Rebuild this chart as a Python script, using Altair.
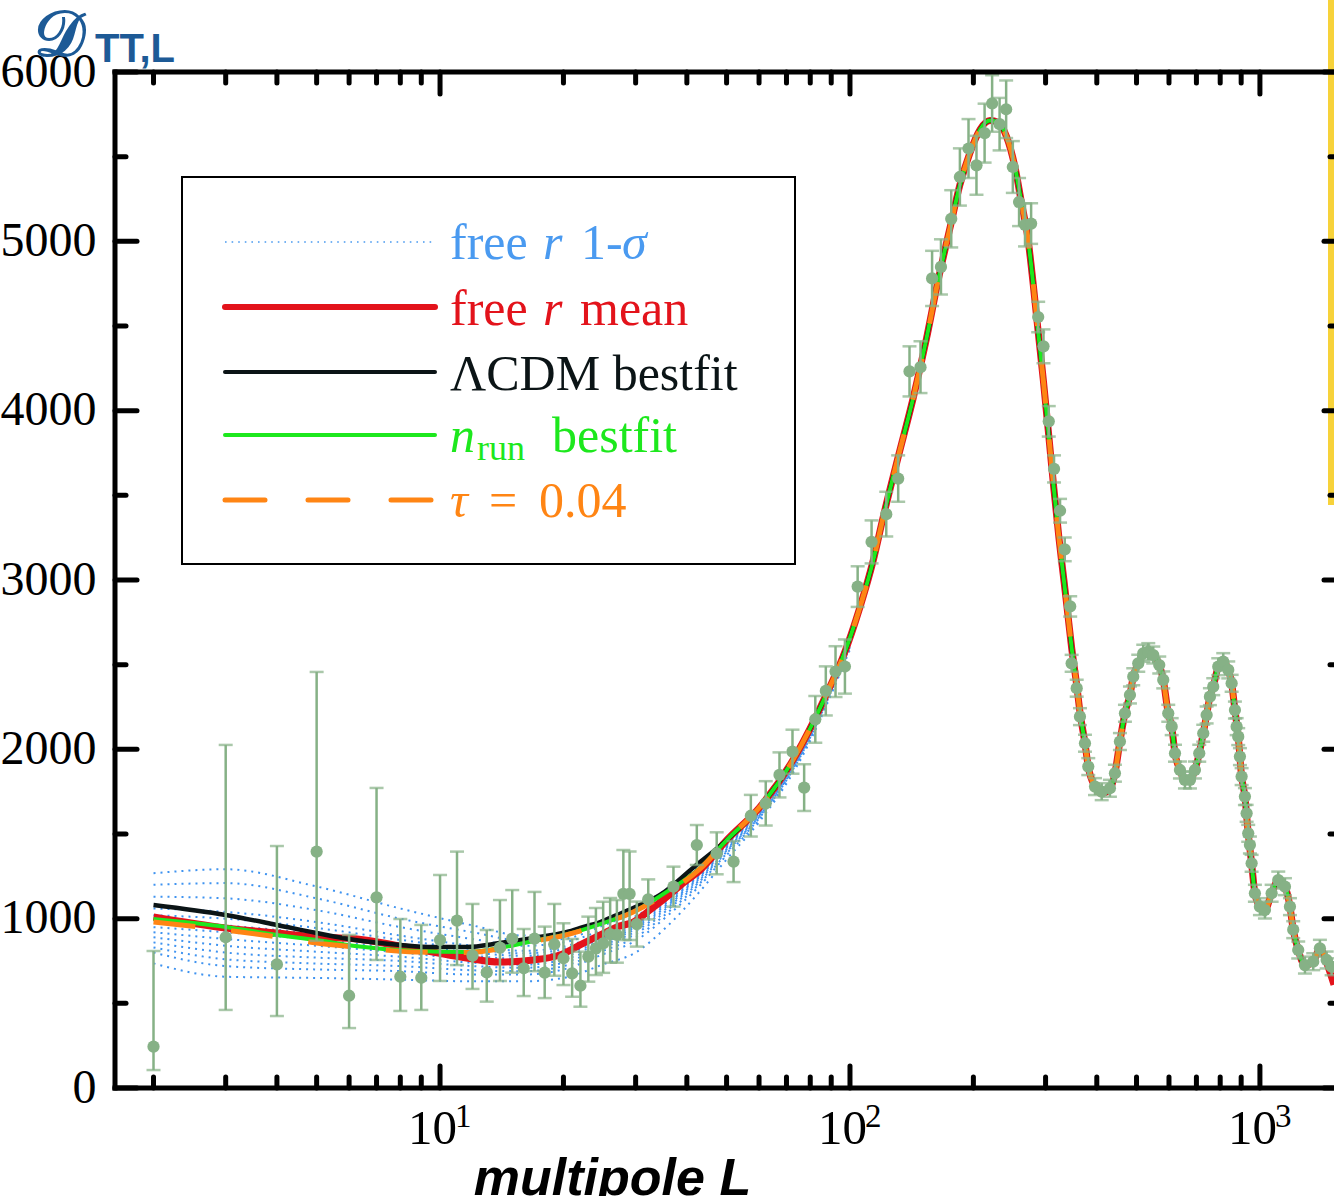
import altair as alt
import pandas as pd

# ---------------- data ----------------
# shared part of all model curves for ell >= 50
HIGH_ELL = [50.1, 60.3, 72.6, 81.2, 87.9, 96.1, 105.8, 113.8, 120.6, 131.2, 142.8, 153.8, 163.9,
            175.4, 185.4, 196.2, 207.6, 219.6, 229.9, 241.0, 252.6, 262.0, 271.7, 279.4, 287.7,
            296.4, 305.3, 314.3, 323.5, 332.0, 338.3, 347.3, 357.3, 363.9, 374.3, 381.3, 396.0,
            411.2, 430.6, 442.9, 455.5, 468.5, 481.9, 490.9, 504.9, 519.3, 534.1, 549.3, 568.1,
            581.0, 597.6, 609.2, 620.6, 638.1, 656.3, 675.0, 694.2, 711.2, 727.4, 741.3, 755.1,
            769.3, 791.3, 813.8, 837.0, 853.1, 869.0, 885.3, 902.3, 919.1, 936.4, 954.4, 972.2,
            1000.0, 1028.5, 1068.0, 1108.5, 1150.9, 1183.7, 1205.7, 1240.0, 1287.7, 1349.0, 1400.6]
HIGH_D = [1465, 1660, 1937, 2156, 2333, 2545, 2841, 3110, 3375, 3730, 4080, 4430, 4764,
          5080, 5333, 5523, 5660, 5713, 5702, 5618, 5439, 5228, 5017, 4764, 4469,
          4174, 3857, 3540, 3245, 3013, 2843, 2600, 2380, 2220, 2036, 1898, 1780,
          1740, 1765, 1859, 2046, 2213, 2321, 2429, 2508, 2560, 2580, 2560, 2500,
          2410, 2213, 2134, 1977, 1878, 1819, 1819, 1878, 1977, 2095, 2203, 2311,
          2370, 2488, 2518, 2469, 2390, 2232, 2075, 1839, 1721, 1504, 1327, 1150,
          1071, 1051, 1150, 1228, 1189, 1071, 935, 815, 726, 746, 825]
TAIL_ELL = [1454.6, 1516.0]
TAIL_D = [756, 700]
RED_TAIL_D = [740, 610]

# low-ell parts of each model
LCDM_LOW_ELL = [2, 3, 4, 5, 6.2, 8, 9.6, 11.6, 14, 16.9, 20.4, 22.4, 24.6, 27, 29.6, 34.4, 41.4]
LCDM_LOW_D = [1081, 1022, 963, 915, 874, 845, 833, 833, 856, 886, 921, 951, 980, 1021, 1063, 1140, 1300]
RED_LOW_ELL = [2, 3, 4, 5, 6.2, 8, 9.6, 11.6, 14, 16.9, 19.6, 22.4, 24.6, 27, 29.6, 32.5, 35.7, 39.2, 43.1]
RED_LOW_D = [1010, 945, 915, 892, 882, 838, 803, 768, 744, 756, 785, 856, 904, 951, 980, 1051, 1128, 1211, 1287]
NRUN_LOW_ELL = [2, 3, 4, 5, 6.2, 8.7, 11.6, 14, 16.9, 20.4, 24.6, 29.6, 35.7, 43.1]
NRUN_LOW_D = [998, 951, 904, 874, 839, 809, 803, 827, 868, 908, 968, 1040, 1158, 1300]
TAU_LOW_ELL = [2, 3, 4, 5, 6.2, 8.7, 11.6, 14, 16.9, 20.4, 24.6, 29.6, 35.7, 43.1]
TAU_LOW_D = [980, 933, 892, 856, 833, 803, 800, 822, 865, 905, 965, 1040, 1150, 1295]

# free-r 1-sigma sample curves
SIG_ELL = [2, 3, 5, 8, 12, 16, 20, 25, 30, 36, 43, 50, 60, 75, 100]
SIG_CURVES = [
    [1268, 1292, 1190, 1060, 960, 900, 900, 980, 1060, 1180, 1320, 1480, 1660, 2000, 2660],
    [1200, 1210, 1120, 1000, 920, 870, 880, 960, 1040, 1160, 1300, 1460, 1650, 1990, 2650],
    [1130, 1120, 1050, 950, 880, 840, 860, 935, 1015, 1140, 1285, 1450, 1640, 1985, 2645],
    [1060, 1040, 980, 900, 840, 810, 835, 910, 990, 1120, 1270, 1440, 1630, 1975, 2640],
    [1020, 1000, 945, 875, 820, 795, 820, 898, 978, 1110, 1262, 1432, 1625, 1970, 2635],
    [990, 960, 910, 850, 800, 780, 805, 885, 965, 1100, 1255, 1425, 1620, 1965, 2630],
    [950, 920, 875, 825, 780, 762, 790, 872, 952, 1090, 1248, 1418, 1615, 1960, 2625],
    [920, 880, 840, 800, 760, 745, 775, 860, 940, 1080, 1240, 1410, 1610, 1955, 2620],
    [890, 840, 805, 775, 740, 728, 758, 845, 925, 1068, 1230, 1402, 1605, 1950, 2615],
    [860, 800, 770, 750, 720, 710, 740, 830, 910, 1055, 1220, 1395, 1600, 1945, 2610],
    [830, 760, 735, 720, 695, 690, 720, 810, 890, 1038, 1208, 1385, 1592, 1940, 2605],
    [800, 720, 700, 690, 670, 670, 700, 790, 870, 1020, 1195, 1375, 1585, 1935, 2600],
    [736, 657, 650, 640, 630, 630, 650, 730, 800, 960, 1160, 1350, 1570, 1920, 2590],
]

# unbinned low-ell data points with asymmetric errors
LOWPT_ELL = list(range(2, 30))
LOWPT_D = [244, 890, 730, 1396, 545, 1126, 657, 651, 874, 988, 782, 683, 829, 882, 707, 882,
           681, 849, 766, 677, 604, 776, 825, 854, 909, 904, 1146, 1146]
LOWPT_LO = [106, 461, 425, 870, 354, 756, 455, 461, 632, 726, 585, 510, 632, 681, 543, 690,
            531, 663, 608, 539, 480, 628, 667, 680, 740, 740, 874, 874]
LOWPT_HI = [809, 2026, 1429, 2457, 904, 1772, 998, 963, 1258, 1396, 1087, 933, 1110, 1169, 939, 1158,
            953, 1087, 973, 880, 805, 1012, 1063, 1100, 1122, 1110, 1405, 1396]

# binned high-ell data points with symmetric errors
BIN_ELL = [30.2, 32.2, 37.1, 42.3, 47.3, 52.0, 57.3, 62.3, 67.3, 72.4, 77.3, 82.3, 87.3, 92.2, 97.2,
           104.4, 112.9, 122.6, 131.1, 139.7, 148.6, 158.6, 166.7, 176.6, 185.4, 194.6, 203.5, 213.0,
           222.2, 231.7, 240.4, 249.6, 258.5, 267.3, 276.6, 287.8, 296.5, 305.4, 314.6, 325.4, 334.1,
           344.5, 347.3, 357.3, 363.9, 374.3, 381.3, 396.0, 411.2, 430.6, 442.9, 455.5, 468.5, 481.9,
           490.9, 504.9, 519.3, 534.1, 549.3, 568.1, 581.0, 597.6, 609.2, 620.6, 638.1, 656.3, 675.0,
           694.2, 711.2, 727.4, 741.3, 755.1, 769.3, 791.3, 813.8, 837.0, 853.1, 869.0, 877.4, 885.3,
           893.7, 902.3, 919.1, 928.0, 936.4, 945.3, 954.4, 972.2, 1000.0, 1028.5, 1068.0, 1108.5,
           1150.9, 1183.7, 1205.7, 1240.0, 1287.7, 1349.0, 1400.6, 1454.6, 1495.9]
BIN_D = [968, 1114, 1189, 1435, 1386, 1337, 1608, 1681, 1849, 1986, 1774, 2177, 2345, 2459, 2489,
         2961, 3225, 3389, 3599, 4232, 4257, 4781, 4849, 5133, 5380, 5548, 5449, 5639,
         5814, 5692, 5780, 5439, 5232, 5097, 5105, 4553, 4380, 3937, 3656, 3409, 3181,
         2844, 2508, 2361, 2193, 2036, 1898, 1780, 1750, 1770, 1859, 2046, 2213, 2321,
         2429, 2508, 2567, 2577, 2557, 2498, 2410, 2213, 2134, 1977, 1878, 1819, 1819,
         1878, 1977, 2095, 2203, 2311, 2370, 2488, 2518, 2469, 2390, 2232, 2134, 2075,
         1957, 1839, 1721, 1622, 1504, 1435, 1327, 1150, 1071, 1051, 1150, 1228,
         1189, 1071, 935, 815, 726, 746, 825, 756, 716]
BIN_ERR = [133, 118, 118, 118, 124, 121, 123, 131, 133, 130, 138, 138, 145, 150, 160,
           120, 127, 132, 137, 148, 153, 163, 163, 169, 169, 174, 174, 174,
           167, 155, 170, 153, 142, 127, 120, 90, 100, 90, 80, 70, 70,
           60] + [50] * 61

X_MAJOR = [10, 100, 1000]
X_EXPONENT = ["1", "2", "3"]
X_MINOR = [2, 3, 4, 5, 6, 7, 8, 9, 20, 30, 40, 50, 60, 70, 80, 90, 200, 300, 400, 500, 600, 700, 800, 900]
Y_MAJOR = [0, 1000, 2000, 3000, 4000, 5000, 6000]
Y_MINOR = [500, 1500, 2500, 3500, 4500, 5500]

# ---------------- tables ----------------
def curve(low_ell, low_d, tail_d):
    return pd.DataFrame({"ell": low_ell + HIGH_ELL + TAIL_ELL, "D": low_d + HIGH_D + tail_d})

lcdm = curve(LCDM_LOW_ELL, LCDM_LOW_D, TAIL_D)
red = curve(RED_LOW_ELL, RED_LOW_D, RED_TAIL_D)
nrun = curve(NRUN_LOW_ELL, NRUN_LOW_D, TAIL_D)
tau = curve(TAU_LOW_ELL, TAU_LOW_D, TAIL_D)

sig_rows = []
for i, vals in enumerate(SIG_CURVES):
    for e, d in zip(SIG_ELL, vals):
        sig_rows.append({"ell": e, "D": d, "c": i})
sig = pd.DataFrame(sig_rows)

pts = pd.concat([
    pd.DataFrame({"ell": LOWPT_ELL, "D": LOWPT_D, "lo": LOWPT_LO, "hi": LOWPT_HI}),
    pd.DataFrame({"ell": BIN_ELL, "D": BIN_D,
                  "lo": [d - e for d, e in zip(BIN_D, BIN_ERR)],
                  "hi": [d + e for d, e in zip(BIN_D, BIN_ERR)]}),
], ignore_index=True)

xmaj = pd.DataFrame({"v": X_MAJOR, "exp": X_EXPONENT})
xmin = pd.DataFrame({"v": X_MINOR})
ymaj = pd.DataFrame({"v": Y_MAJOR})
ymin = pd.DataFrame({"v": Y_MINOR})
ONE = pd.DataFrame({"k": [0]})

# ---------------- scales / axes ----------------
W, H = 1219, 1016
SERIF = "Liberation Serif"

xscale = alt.Scale(type="log", domain=[1.611, 1516], nice=False)
yscale = alt.Scale(domain=[0, 6000], nice=False, zero=False)

x_axis = alt.Axis(
    values=X_MAJOR, ticks=False, tickSize=0, domain=False, grid=False,
    labelExpr="'10'", labelOffset=-8,
    labelFont=SERIF, labelFontSize=49, labelColor="black", labelPadding=16,
    labelBaseline="top", labelFlush=False, labelOverlap=False,
    title="multipole L", titleFont="Liberation Sans", titleFontSize=52,
    titleFontWeight="bold", titleFontStyle="italic", titleColor="black",
    titleX=497, titleY=106, titleAlign="center", titleBaseline="alphabetic",
)
y_axis = alt.Axis(
    values=Y_MAJOR, ticks=False, tickSize=0, domain=False, grid=False, format="d",
    labelFont=SERIF, labelFontSize=48, labelColor="black", labelPadding=19,
    labelBaseline="middle", labelFlush=False, labelOverlap=False, title=None,
)


def X(f):
    return alt.X(f, type="quantitative", scale=xscale, axis=x_axis)


def Y(f):
    return alt.Y(f, type="quantitative", scale=yscale, axis=y_axis)


layers = []

# 1-sigma dotted band
layers.append(alt.Chart(sig).mark_line(
    color="#3f93f0", strokeWidth=2, strokeDash=[2, 5], interpolate="monotone", clip=True
).encode(x=X("ell"), y=Y("D"), detail="c:N"))

# model curves
layers.append(alt.Chart(red).mark_line(color="#e3131b", strokeWidth=7, interpolate="monotone",
                                       clip=True).encode(x=X("ell"), y=Y("D")))
layers.append(alt.Chart(lcdm).mark_line(color="#0b1416", strokeWidth=4.5, interpolate="monotone",
                                        clip=True).encode(x=X("ell"), y=Y("D")))
layers.append(alt.Chart(nrun).mark_line(color="#1de81d", strokeWidth=4, interpolate="monotone",
                                        clip=True).encode(x=X("ell"), y=Y("D")))
layers.append(alt.Chart(tau).mark_line(color="#ff8514", strokeWidth=5, strokeDash=[42, 36],
                                       interpolate="monotone", clip=True).encode(x=X("ell"), y=Y("D")))

# data with error bars
PTC = "#86b186"
layers.append(alt.Chart(pts).mark_errorbar(ticks=True, color=PTC, thickness=2.5, size=14, clip=True)
              .encode(x=X("ell"), y=Y("lo"), y2="hi:Q"))
layers.append(alt.Chart(pts).mark_circle(color=PTC, size=150, opacity=1, clip=True)
              .encode(x=X("ell"), y=Y("D")))

# yellow edge of the slide box
layers.append(alt.Chart(ONE).mark_rule(color="#f7d23a", strokeWidth=6)
              .encode(x=alt.value(W - 3), y=alt.value(-72), y2=alt.value(433)))

# frame (left, top, bottom)
FR = dict(color="black", strokeWidth=5)
layers.append(alt.Chart(ONE).mark_rule(**FR).encode(x=alt.value(0), y=alt.value(-2.5), y2=alt.value(H + 2.5)))
layers.append(alt.Chart(ONE).mark_rule(**FR).encode(x=alt.value(-2.5), x2=alt.value(W + 5), y=alt.value(0)))
layers.append(alt.Chart(ONE).mark_rule(**FR).encode(x=alt.value(-2.5), x2=alt.value(W + 5), y=alt.value(H)))

# inward ticks
TK = dict(color="black", strokeWidth=5, strokeCap="round")
layers.append(alt.Chart(xmaj).mark_rule(**TK).encode(x=X("v"), y=alt.value(H), y2=alt.value(H - 22)))
layers.append(alt.Chart(xmin).mark_rule(**TK).encode(x=X("v"), y=alt.value(H), y2=alt.value(H - 11)))
layers.append(alt.Chart(xmaj).mark_rule(**TK).encode(x=X("v"), y=alt.value(0), y2=alt.value(22)))
layers.append(alt.Chart(xmin).mark_rule(**TK).encode(x=X("v"), y=alt.value(0), y2=alt.value(11)))
layers.append(alt.Chart(ymaj).mark_rule(**TK).encode(y=Y("v"), x=alt.value(0), x2=alt.value(22)))
layers.append(alt.Chart(ymin).mark_rule(**TK).encode(y=Y("v"), x=alt.value(0), x2=alt.value(11)))
layers.append(alt.Chart(ymaj).mark_rule(**TK).encode(y=Y("v"), x=alt.value(W), x2=alt.value(W - 10)))
layers.append(alt.Chart(ymin).mark_rule(**TK).encode(y=Y("v"), x=alt.value(W), x2=alt.value(W - 4)))

# exponents of the x tick labels (10^1, 10^2, 10^3)
layers.append(alt.Chart(xmaj).mark_text(
    align="left", baseline="top", dx=15, font=SERIF, fontSize=33, color="black"
).encode(x=X("v"), y=alt.value(H + 13), text="exp:N"))

# legend box
layers.append(alt.Chart(ONE).mark_rect(fill="white", stroke="black", strokeWidth=2)
              .encode(x=alt.value(67), x2=alt.value(680), y=alt.value(105), y2=alt.value(492)))

BLUE, RED, BLACK, GREEN, ORANGE = "#4a9af0", "#e3131b", "#0b1416", "#1de81d", "#ff8514"


def lrule(y, color, width, dash=None, cap="round"):
    kw = dict(color=color, strokeWidth=width, strokeCap=cap)
    if dash is not None:
        kw["strokeDash"] = dash
    return alt.Chart(ONE).mark_rule(**kw).encode(x=alt.value(110), x2=alt.value(320), y=alt.value(y))


layers.append(lrule(170, BLUE, 1.6, [1.6, 5], "butt"))
layers.append(lrule(235, RED, 6))
layers.append(lrule(300, BLACK, 4))
layers.append(lrule(363, GREEN, 4))
layers.append(lrule(428, ORANGE, 5, [40, 43]))


def txt(s, x, y, color, size=50, style="normal", font=SERIF, weight="normal"):
    return alt.Chart(ONE).mark_text(
        text=s, align="left", baseline="alphabetic", font=font, fontSize=size,
        fontStyle=style, fontWeight=weight, color=color
    ).encode(x=alt.value(x), y=alt.value(y))


layers += [
    txt("free", 335, 187, BLUE), txt("r", 428, 187, BLUE, style="italic"),
    txt("1-", 466, 187, BLUE), txt("σ", 507, 187, BLUE, style="italic"),
    txt("free", 335, 253, RED), txt("r", 428, 253, RED, style="italic"),
    txt("mean", 465, 253, RED),
    txt("ΛCDM bestfit", 335, 318, BLACK),
    txt("n", 335, 380, GREEN, style="italic"), txt("run", 362, 388, GREEN, size=36),
    txt("bestfit", 437, 380, GREEN),
    txt("τ", 335, 445, ORANGE, style="italic"), txt("=", 374, 445, ORANGE),
    txt("0.04", 424, 445, ORANGE),
]

# panel heading
HEAD = "#1d5a96"
layers.append(txt("𝒟", -81, -16, HEAD, size=64, font="DejaVu Serif", weight="bold"))
layers.append(txt("TT,L", -20, -10, HEAD, size=40, font="Liberation Sans", weight="bold"))

chart = alt.layer(*layers).properties(
    width=W, height=H,
    autosize=alt.AutoSizeParams(type="none"),
    padding={"left": 115, "top": 72, "right": 0, "bottom": 108},
    background="white",
).configure_view(stroke=None)

chart.save("out.html", embed_options={"renderer": "svg", "actions": False})
